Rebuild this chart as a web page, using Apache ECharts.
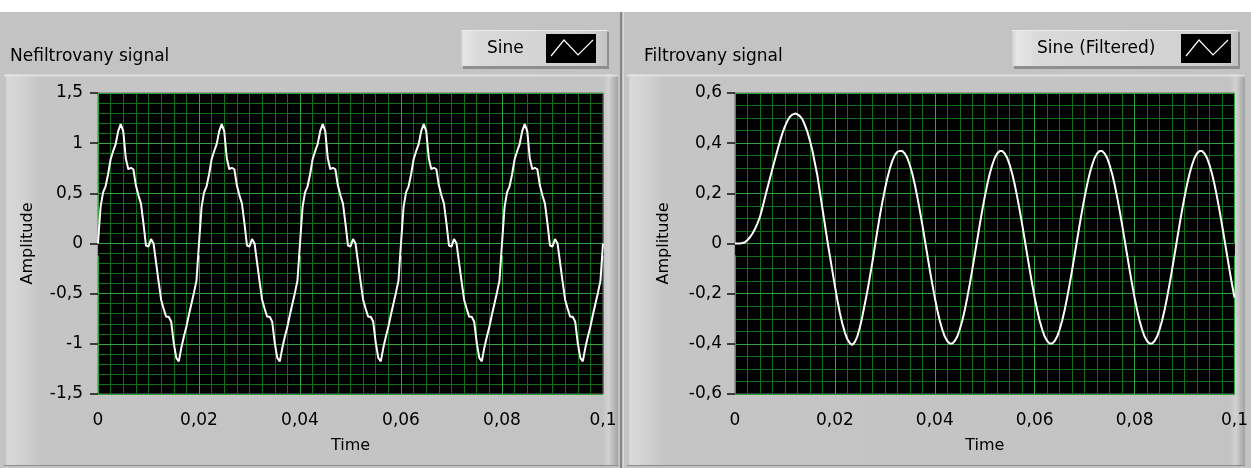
<!DOCTYPE html>
<html><head><meta charset="utf-8">
<script src="https://cdn.jsdelivr.net/npm/echarts@6.0.0/dist/echarts.min.js"></script>
<style>html,body{margin:0;padding:0;background:#fff}#c{width:1251px;height:468px}</style>
</head><body><div id="c"></div>
<script>
// ---- data ----
const panelTitles = ['Nefiltrovany signal', 'Filtrovany signal'];
const legendNames = ['Sine', 'Sine (Filtered)'];
const xAxisName = 'Time';
const yAxisName = 'Amplitude';
const xRange = [0, 0.1, 0.02];            // min, max, step of the Time axis
const xMinorStep = 0.0025;
const yRangeRaw = [-1.5, 1.5, 0.5];
const yMinorRaw = 0.1;
const yRangeFiltered = [-0.6, 0.6, 0.2];
const yMinorFiltered = 0.05;
const t0 = 0, dt = 0.0005;                 // waveform start time and sample interval (s)

// unfiltered signal samples
const rawSignal = [
  0, 0.36, 0.51, 0.57, 0.69, 0.84, 0.92, 0.99, 1.12, 1.19, 1.12, 0.85, 0.74, 0.755, 0.74, 0.58, 0.48, 0.40, 0.20, -0.02,
  -0.03, 0.045, 0.0, -0.19, -0.38, -0.56, -0.65, -0.73, -0.73, -0.78, -0.99, -1.14, -1.175, -1.04, -0.93, -0.83, -0.71, -0.60, -0.49, -0.37,
  0, 0.36, 0.51, 0.57, 0.69, 0.84, 0.92, 0.99, 1.12, 1.19, 1.12, 0.85, 0.74, 0.755, 0.74, 0.58, 0.48, 0.40, 0.20, -0.02,
  -0.03, 0.045, 0.0, -0.19, -0.38, -0.56, -0.65, -0.73, -0.73, -0.78, -0.99, -1.14, -1.175, -1.04, -0.93, -0.83, -0.71, -0.60, -0.49, -0.37,
  0, 0.36, 0.51, 0.57, 0.69, 0.84, 0.92, 0.99, 1.12, 1.19, 1.12, 0.85, 0.74, 0.755, 0.74, 0.58, 0.48, 0.40, 0.20, -0.02,
  -0.03, 0.045, 0.0, -0.19, -0.38, -0.56, -0.65, -0.73, -0.73, -0.78, -0.99, -1.14, -1.175, -1.04, -0.93, -0.83, -0.71, -0.60, -0.49, -0.37,
  0, 0.36, 0.51, 0.57, 0.69, 0.84, 0.92, 0.99, 1.12, 1.19, 1.12, 0.85, 0.74, 0.755, 0.74, 0.58, 0.48, 0.40, 0.20, -0.02,
  -0.03, 0.045, 0.0, -0.19, -0.38, -0.56, -0.65, -0.73, -0.73, -0.78, -0.99, -1.14, -1.175, -1.04, -0.93, -0.83, -0.71, -0.60, -0.49, -0.37,
  0, 0.36, 0.51, 0.57, 0.69, 0.84, 0.92, 0.99, 1.12, 1.19, 1.12, 0.85, 0.74, 0.755, 0.74, 0.58, 0.48, 0.40, 0.20, -0.02,
  -0.03, 0.045, 0.0, -0.19, -0.38, -0.56, -0.65, -0.73, -0.73, -0.78, -0.99, -1.14, -1.175, -1.04, -0.93, -0.83, -0.71, -0.60, -0.49, -0.37,
  0
];

// filtered signal samples
const filteredSignal = [
  0, 0, 0, 0.002, 0.005, 0.014, 0.025, 0.040, 0.058, 0.080, 0.106, 0.143, 0.183, 0.222, 0.260, 0.298, 0.335, 0.372, 0.408, 0.440,
  0.467, 0.489, 0.505, 0.514, 0.518, 0.515, 0.508, 0.495, 0.472, 0.445, 0.410, 0.370, 0.320, 0.270, 0.205, 0.140, 0.075, 0.010, -0.050, -0.110,
  -0.170, -0.226, -0.277, -0.320, -0.355, -0.382, -0.398, -0.404, -0.392, -0.370, -0.335, -0.290, -0.240, -0.190, -0.133, -0.075, -0.012, 0.050, 0.110, 0.165,
  0.215, 0.260, 0.298, 0.330, 0.352, 0.365,
  0.369, 0.369, 0.359, 0.341, 0.313, 0.278, 0.235, 0.186, 0.132, 0.075, 0.015, -0.045, -0.105, -0.162, -0.216, -0.265, -0.308, -0.343, -0.371, -0.389,
  -0.399, -0.399, -0.389, -0.371, -0.343, -0.308, -0.265, -0.216, -0.162, -0.105, -0.045, 0.015, 0.075, 0.132, 0.186, 0.235, 0.278, 0.313, 0.341, 0.359,
  0.369, 0.369, 0.359, 0.341, 0.313, 0.278, 0.235, 0.186, 0.132, 0.075, 0.015, -0.045, -0.105, -0.162, -0.216, -0.265, -0.308, -0.343, -0.371, -0.389,
  -0.399, -0.399, -0.389, -0.371, -0.343, -0.308, -0.265, -0.216, -0.162, -0.105, -0.045, 0.015, 0.075, 0.132, 0.186, 0.235, 0.278, 0.313, 0.341, 0.359,
  0.369, 0.369, 0.359, 0.341, 0.313, 0.278, 0.235, 0.186, 0.132, 0.075, 0.015, -0.045, -0.105, -0.162, -0.216, -0.265, -0.308, -0.343, -0.371, -0.389,
  -0.399, -0.399, -0.389, -0.371, -0.343, -0.308, -0.265, -0.216, -0.162, -0.105, -0.045, 0.015, 0.075, 0.132, 0.186, 0.235, 0.278, 0.313, 0.341, 0.359,
  0.369, 0.369, 0.359, 0.341, 0.313, 0.278, 0.235, 0.186, 0.132, 0.075, 0.015, -0.045, -0.105, -0.162, -0.216
];

// ---- chart ----
const FONT = 'DejaVu Sans';
const fmt = v => String(+(+v).toFixed(3)).replace('.', ',');
const toPairs = arr => arr.map((v, i) => [+(t0 + i * dt).toFixed(5), v]);

const MAJOR = '#34a23a';
const MINOR = '#0f6e16';

function xAxis(gi) {
  return {
    type: 'value', gridIndex: gi, min: xRange[0], max: xRange[1], interval: xRange[2], z: 3,
    name: xAxisName, nameLocation: 'middle', nameGap: 44,
    nameTextStyle: { fontFamily: FONT, fontSize: 16, color: '#000' },
    axisLine: { show: false },
    axisTick: { show: true, length: 12, lineStyle: { color: '#111', width: 1 } },
    axisLabel: { margin: 18, fontFamily: FONT, fontSize: 17, color: '#000', formatter: fmt, hideOverlap: false },
    splitLine: { show: true, lineStyle: { color: MAJOR, width: 1 } }
  };
}
function yAxis(gi, r, gap, margin) {
  return {
    type: 'value', gridIndex: gi, min: r[0], max: r[1], interval: r[2], z: 3,
    name: yAxisName, nameLocation: 'middle', nameGap: gap, nameRotate: 90,
    nameTextStyle: { fontFamily: FONT, fontSize: 16, color: '#000' },
    axisLine: { show: false },
    axisTick: { show: true, length: 8, lineStyle: { color: '#111', width: 1.5 } },
    axisLabel: { margin: margin, fontFamily: FONT, fontSize: 17, color: '#000', formatter: fmt },
    splitLine: { show: true, lineStyle: { color: MAJOR, width: 1 } }
  };
}
// fine grid (LabVIEW minor grid) drawn through extra hidden axes
function minorAxis(gi, min, max, step) {
  return {
    type: 'value', gridIndex: gi, min: min, max: max, interval: step, z: 1,
    axisLine: { show: false }, axisTick: { show: false }, axisLabel: { show: false },
    splitLine: { show: true, lineStyle: { color: MINOR, width: 1 } }
  };
}

function hgrad(stops) {
  return new echarts.graphic.LinearGradient(0, 0, 1, 0, stops.map(s => ({ offset: s[0], color: s[1] })));
}
function frame(x, w) {
  return [
    { type: 'rect', z: -20, shape: { x: x, y: 74, width: w, height: 392 },
      style: { fill: hgrad([[0, '#bcbcbc'], [0.006, '#dadada'], [0.035, '#d0d0d0'], [0.06, '#c5c5c5'], [0.975, '#c3c3c3'], [0.985, '#d2d2d2'], [1, '#a2a2a2']]) } },
    { type: 'line', z: -19, shape: { x1: x, y1: 75.5, x2: x + w, y2: 75.5 }, style: { stroke: '#e0e0e0', lineWidth: 2 } },
    { type: 'line', z: -19, shape: { x1: x, y1: 465.5, x2: x + w, y2: 465.5 }, style: { stroke: '#8c8c8c', lineWidth: 1 } }
  ];
}
function legendBox(x, w, textX, label, swX) {
  return [
    { type: 'rect', z: -10, shape: { x: x + 2, y: 32, width: w, height: 37 }, style: { fill: '#8f8f8f' } },
    { type: 'rect', z: -9, shape: { x: x, y: 30, width: w, height: 36 },
      style: { fill: hgrad([[0, '#cfcfcf'], [0.02, '#e6e6e6'], [0.12, '#d9d9d9'], [0.9, '#d0d0d0'], [1, '#c2c2c2']]) } },
    { type: 'line', z: -8, shape: { x1: x, y1: 30.5, x2: x + w, y2: 30.5 }, style: { stroke: '#ececec', lineWidth: 1 } },
    { type: 'text', z: 5, style: { text: label, x: textX, y: 49, verticalAlign: 'middle', align: 'left', fontFamily: FONT, fontSize: 17, fill: '#000' } },
    { type: 'rect', z: 5, shape: { x: swX, y: 34, width: 50, height: 29 }, style: { fill: '#000' } },
    { type: 'polyline', z: 6, shape: { points: [[swX + 5, 56], [swX + 18, 40], [swX + 32, 55], [swX + 47, 40]] }, style: { stroke: '#fff', lineWidth: 1.2, fill: null } }
  ];
}

const chart = echarts.init(document.getElementById('c'), null, { renderer: 'canvas' });
chart.setOption({
  animation: false,
  backgroundColor: '#c3c3c3',
  title: [
    { text: panelTitles[0], left: 10, top: 47, padding: 0, textStyle: { fontFamily: FONT, fontSize: 17, fontWeight: 'normal', color: '#000', lineHeight: 20 } },
    { text: panelTitles[1], left: 644, top: 47, padding: 0, textStyle: { fontFamily: FONT, fontSize: 17, fontWeight: 'normal', color: '#000', lineHeight: 20 } }
  ],
  grid: [
    { left: 98, top: 93, width: 505, height: 301, show: true, backgroundColor: '#000', borderColor: '#6a6a6a', borderWidth: 1, containLabel: false },
    { left: 735, top: 93, width: 501, height: 301, show: true, backgroundColor: '#000', borderColor: '#6a6a6a', borderWidth: 1, containLabel: false }
  ],
  xAxis: [xAxis(0), xAxis(1), minorAxis(0, xRange[0], xRange[1], xMinorStep), minorAxis(1, xRange[0], xRange[1], xMinorStep)],
  yAxis: [yAxis(0, yRangeRaw, 62, 15), yAxis(1, yRangeFiltered, 63, 13),
          minorAxis(0, yRangeRaw[0], yRangeRaw[1], yMinorRaw), minorAxis(1, yRangeFiltered[0], yRangeFiltered[1], yMinorFiltered)],
  series: [
    { name: legendNames[0], type: 'line', xAxisIndex: 0, yAxisIndex: 0, data: toPairs(rawSignal),
      showSymbol: false, symbol: 'none', lineStyle: { color: '#ffffff', width: 2 }, z: 5 },
    { name: legendNames[1], type: 'line', xAxisIndex: 1, yAxisIndex: 1, data: toPairs(filteredSignal),
      showSymbol: false, symbol: 'none', lineStyle: { color: '#ffffff', width: 2 }, z: 5 }
  ],
  graphic: [
    { type: 'rect', z: -30, shape: { x: 0, y: 0, width: 1251, height: 12 }, style: { fill: '#ffffff' } },
    ...frame(4, 614),
    ...frame(627, 618),
    { type: 'line', z: -18, shape: { x1: 621, y1: 12, x2: 621, y2: 468 }, style: { stroke: '#858585', lineWidth: 2 } },
    { type: 'line', z: -18, shape: { x1: 623.5, y1: 12, x2: 623.5, y2: 468 }, style: { stroke: '#dadada', lineWidth: 1 } },
    ...legendBox(461, 146, 487, legendNames[0], 546),
    ...legendBox(1012, 226, 1037, legendNames[1], 1181)
  ]
});
</script>
</body></html>
